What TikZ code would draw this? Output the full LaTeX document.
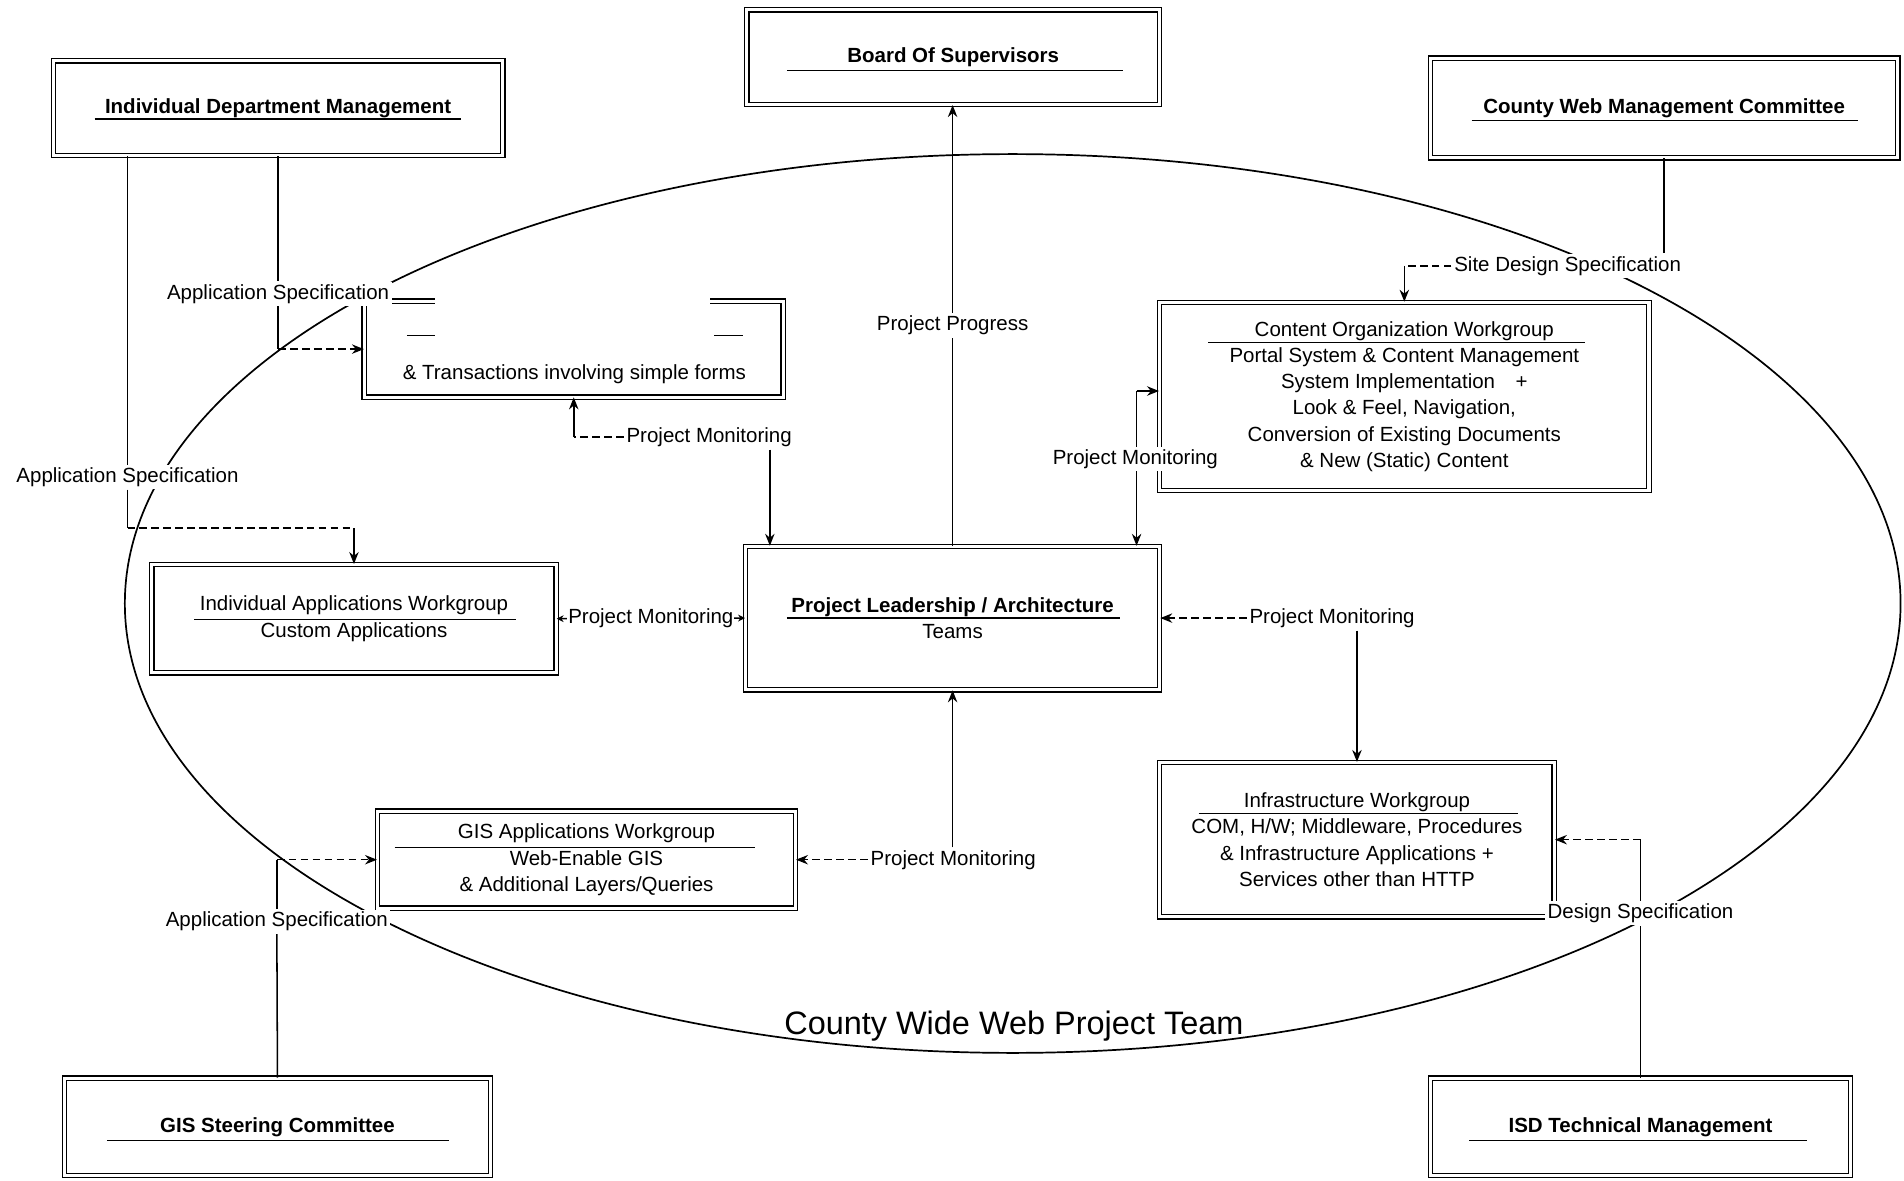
\documentclass[tikz,border=0pt]{standalone}
\usepackage{fontspec}
\setmainfont{Liberation Sans}
\usetikzlibrary{arrows.meta}
\tikzset{
  boxnode/.style={draw, double, double distance=1.8pt, line width=0.75pt, inner sep=0pt, align=center},
  bx/.style n args={2}{minimum width=#1*0.025cm, minimum height=#2*0.025cm},
  boxline/.style={double, double distance=1.8pt, line width=0.75pt},
  bold/.style={font=\fontsize{12}{15.4}\selectfont\bfseries},
  lbl/.style={fill=white, inner sep=1.5pt},
  conn/.style={line width=0.9pt},
  dsh/.style={dash pattern=on 4.5pt off 2.5pt},
  arr/.style={-{Stealth[length=7pt,width=5.5pt]}},
  sepline/.style={line width=0.7pt}
}
\begin{document}
\begin{tikzpicture}[x=0.025cm,y=-0.025cm,font=\fontsize{12}{15.4}\selectfont]
\fill[white] (0,0) rectangle (1568,972);
\useasboundingbox (0,0) rectangle (1568,972);
\draw[line width=1pt] (834,497) ellipse [x radius=18.275cm, y radius=9.25cm];
\node[anchor=base,font=\fontsize{19}{22}\selectfont] (team) at (835,852) {County Wide Web Project Team};

% boxes
\node[boxnode, bold, bx={370}{78}] (idm) at (229,89) {Individual Department Management};
\draw[sepline] (78,98) -- (380,98);
\node[boxnode, bold, bx={340}{78}] (board) at (785,47) {Board Of Supervisors};
\draw[sepline] (648,58) -- (925,58);
\node[boxnode, bold, bx={385}{82}] (cwmc) at (1370.5,89) {County Web Management Committee};
\draw[sepline] (1212,99) -- (1530,99);

\node[inner sep=0pt, bx={345}{79}] (tlw) at (472.5,287.5) {};
\draw[boxline] (358,248) -| (300,327) -| (645,248) -- (585,248);
\node (tlt) at (473,308) {\& Transactions involving simple forms};
\draw[sepline] (335,276) -- (358,276) (588,276) -- (612,276);

\node[boxnode, bx={403}{155}] (cow) at (1156.5,326.5) {Content Organization Workgroup\\Portal System \& Content Management\\System Implementation\quad+\\Look \& Feel, Navigation,\\Conversion of Existing Documents\\\& New (Static) Content};
\draw[sepline] (995,282) -- (1305,282);

\node[boxnode, bx={333}{89}] (iaw) at (291.5,509.5) {Individual Applications Workgroup\\Custom Applications};
\draw[sepline] (160,510) -- (425,510);

\node[boxnode, bx={341}{118}] (pla) at (784.5,509) {\textbf{Project Leadership / Architecture}\\Teams};
\draw[sepline] (648,509) -- (922,509);

\node[boxnode, bx={344}{80}] (gisaw) at (483,708) {GIS Applications Workgroup\\Web-Enable GIS\\\& Additional Layers/Queries};
\draw[sepline] (325,698) -- (622,698);

\node[boxnode, bx={325}{127}] (infra) at (1117.5,691.5) {Infrastructure Workgroup\\COM, H/W; Middleware, Procedures\\\& Infrastructure Applications +\\Services other than HTTP};
\draw[sepline] (987,670) -- (1250,670);

\node[boxnode, bold, bx={351}{80}] (gsc) at (228.5,928) {GIS Steering Committee};
\draw[sepline] (88,939) -- (370,939);
\node[boxnode, bold, bx={346}{80}] (isd) at (1351,928) {ISD Technical Management};
\draw[sepline] (1210,939) -- (1488,939);

% labels
\node[lbl] (as1) at (229,242) {Application Specification};
\node[lbl] (as2) at (105,393) {Application Specification};
\node[lbl] (sds) at (1291,219) {Site Design Specification};
\node[lbl] (pm1) at (584,360) {Project Monitoring};
\node[lbl] (pm2) at (935,378) {Project Monitoring};
\node[lbl] (pm4) at (1097,509) {Project Monitoring};
\node[lbl] (pm5) at (785,708) {Project Monitoring};
\node[lbl] (as3) at (228,759) {Application Specification};
\node[lbl] (ds) at (1351,752) {Design Specification};

% connectors
\draw[conn] (idm.south) -- (as1.north);
\coordinate (j1) at (as1.south |- tlw.west);
\draw[conn] (as1.south) -- (j1);
\draw[conn,dsh,arr] (j1) -- (tlw.west);

\draw[conn] (idm.south -| as2.north) -- (as2.north);
\coordinate (j2) at (105,435);
\draw[conn] (as2.south) -- (j2);
\coordinate (j2b) at (j2 -| iaw.north);
\draw[conn,dsh] (j2) -- (j2b);
\draw[conn,arr] (j2b) -- (iaw.north);

\draw[conn,arr] (pla.north) -- (pla.north |- board.south) node[lbl,pos=0.5] (pp) {Project Progress};

\draw[conn] (cwmc.south) -- (cwmc.south |- sds.north);
\coordinate (j3) at (sds.west -| cow.north);
\draw[conn,dsh] (sds.west) -- (j3);
\draw[conn,arr] (j3) -- (cow.north);

\coordinate (j4) at (pm1.west -| tlw.south);
\draw[conn,dsh] (pm1.west) -- (j4);
\draw[conn,arr] (j4) -- (tlw.south);
\coordinate (c1) at (634,0);
\draw[conn,arr] (pm1.south -| c1) -- (pla.north -| c1);

\coordinate (c2) at (936,322);
\draw[conn] (pm2.north -| c2) -- (c2);
\draw[conn,arr] (c2) -- (c2 -| cow.west);
\draw[conn,arr] (pm2.south -| c2) -- (pla.north -| c2);

\draw[conn,{Stealth[length=4pt,width=4pt]}-{Stealth[length=4pt,width=4pt]}] (iaw.east) -- (pla.west) node[lbl,midway,inner sep=0.5pt] (pm3) {Project Monitoring};

\draw[conn,dsh,arr] (pm4.west) -- (pla.east);
\draw[conn,arr] (pm4.south -| infra.north) -- (infra.north);

\draw[conn,dsh,arr] (pm5.west) -- (gisaw.east);
\draw[conn,arr] (pm5.north -| pla.south) -- (pla.south);

\draw[conn] (gsc.north) -- (as3.south);
\coordinate (j5) at (as3.north |- gisaw.west);
\draw[conn] (as3.north) -- (j5);
\draw[conn,dsh,arr] (j5) -- (gisaw.west);

\draw[conn] (isd.north) -- (ds.south);
\coordinate (j6) at (ds.north |- infra.east);
\draw[conn] (ds.north) -- (j6);
\draw[conn,dsh,arr] (j6) -- (infra.east);
\end{tikzpicture}
\end{document}
